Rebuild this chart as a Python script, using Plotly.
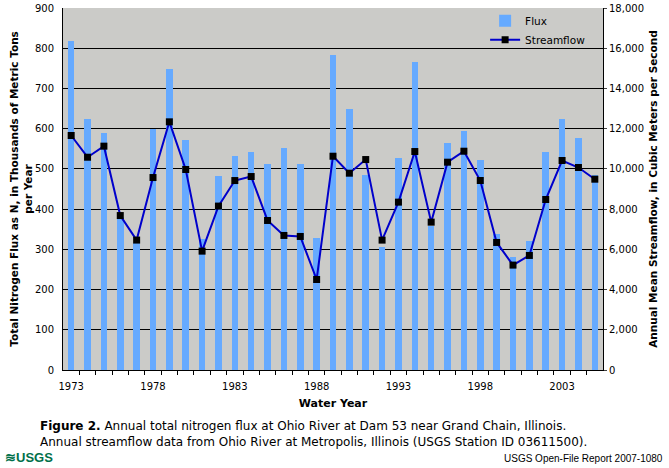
import plotly.graph_objects as go

years = list(range(1973, 2006))
flux = [817, 625, 590, 380, 315, 598, 749, 573, 325, 483, 531, 541, 511, 553, 511, 327, 784,
        650, 486, 306, 526, 767, 357, 565, 593, 521, 337, 282, 320, 541, 623, 578, 484]
streamflow = [11660, 10580, 11130, 7680, 6460, 9570, 12340, 9970, 5910, 8150, 9420, 9620, 7435,
              6690, 6640, 4500, 10630, 9786, 10465, 6458, 8346, 10863, 7352, 10333, 10879, 9422,
              6342, 5216, 5696, 8478, 10416, 10068, 9488]
xtick_years = [1973, 1978, 1983, 1988, 1993, 1998, 2003]
left_ticks = list(range(0, 901, 100))
right_ticks = list(range(0, 18001, 2000))

FONT = "DejaVu Sans"

fig = go.Figure()
fig.add_trace(go.Bar(x=years, y=flux, name="Flux", marker=dict(color="#66AAFF", line=dict(width=0)),
                     width=0.4, yaxis="y"))
fig.add_trace(go.Scatter(x=years, y=streamflow, name="Streamflow", mode="lines+markers",
                         line=dict(color="#0000CC", width=2),
                         marker=dict(symbol="square", size=7, color="black"), yaxis="y2"))

fig.update_layout(
    width=669, height=468,
    margin=dict(l=63, r=66, t=8, b=98, autoexpand=False),
    paper_bgcolor="white", plot_bgcolor="#CBCBC8",
    font=dict(family=FONT, size=11, color="black"),
    showlegend=True,
    legend=dict(x=0.978, y=1.005, xanchor="right", yanchor="top", bgcolor="rgba(0,0,0,0)",
                font=dict(family=FONT, size=10.5), tracegroupgap=0, itemwidth=30),
    bargap=0,
    xaxis=dict(range=[1972.5, 2005.5], tickvals=xtick_years, ticktext=[str(y) for y in xtick_years],
               ticks="outside", ticklen=0, ticklabelstandoff=7,
               showgrid=False, zeroline=False, showline=True, linecolor="black", linewidth=1,
               tickfont=dict(size=10), automargin=False,
               minor=dict(tickvals=[y + 0.5 for y in years[:-1]], ticks="outside", ticklen=4,
                          tickcolor="black", showgrid=False),
               title=dict(text="<b>Water Year</b>", font=dict(size=11), standoff=8)),
    yaxis=dict(range=[0, 900], tickvals=left_ticks, showgrid=True, gridcolor="black", gridwidth=1,
               zeroline=False, showline=True, linecolor="black", linewidth=1, ticks="",
               ticklabelstandoff=6, tickfont=dict(size=10), automargin=False,
               title=dict(text="<b>Total Nitrogen Flux as N, in Thousands of Metric Tons<br>per Year</b>",
                          font=dict(size=10.5), standoff=0)),
    yaxis2=dict(range=[0, 18000], tickvals=right_ticks, tickformat=",d", overlaying="y", side="right",
                showgrid=False, zeroline=False, showline=True, linecolor="black", linewidth=1,
                ticks="outside", ticklen=3, tickfont=dict(size=10), automargin=False,
                title=dict(text="<b>Annual Mean Streamflow, in Cubic Meters per Second</b>",
                           font=dict(size=10.5), standoff=6)),
)

fig.add_annotation(xref="paper", yref="paper", x=-0.0463, y=-0.13, xanchor="left", yanchor="top",
                   align="left", showarrow=False, font=dict(family=FONT, size=12),
                   text="<b>Figure 2.</b> Annual total nitrogen flux at Ohio River at Dam 53 near Grand Chain, Illinois.<br>"
                        "Annual streamflow data from Ohio River at Metropolis, Illinois (USGS Station ID 03611500).")
fig.add_annotation(xref="paper", yref="paper", x=-0.111, y=-0.215, xanchor="left", yanchor="top",
                   showarrow=False, font=dict(family="Liberation Sans", size=13, color="#00704A"),
                   text="<b>≋USGS</b>")
fig.add_annotation(xref="paper", yref="paper", x=1.1148, y=-0.224, xanchor="right", yanchor="top",
                   showarrow=False, font=dict(family="Liberation Sans Narrow, Liberation Sans", size=10),
                   text="USGS Open-File Report 2007-1080")

fig.write_html("out.html", config={"displayModeBar": False},
               post_script="document.body.style.margin='0';")
